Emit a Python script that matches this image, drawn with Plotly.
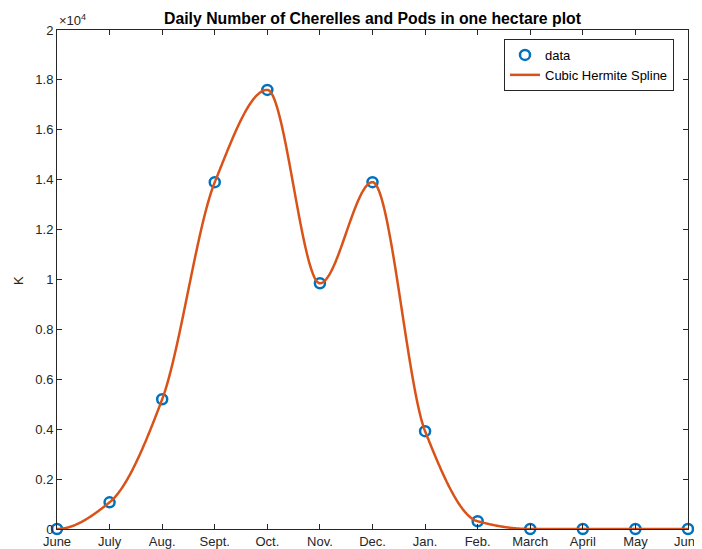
import numpy as np
import plotly.graph_objects as go

months = ["June", "July", "Aug.", "Sept.", "Oct.", "Nov.", "Dec.", "Jan.", "Feb.", "March", "April", "May", "June"]
month_index = list(range(13))
counts = [0, 1070, 5200, 13900, 17600, 9850, 13900, 3920, 310, 0, 0, 0, 0]
ytick_vals = [0, 2000, 4000, 6000, 8000, 10000, 12000, 14000, 16000, 18000, 20000]
ytick_text = ["0", "0.2", "0.4", "0.6", "0.8", "1", "1.2", "1.4", "1.6", "1.8", "2"]


def pchip(x, y, xq):
    x = np.asarray(x, float); y = np.asarray(y, float)
    n = len(x)
    h = np.diff(x)
    delta = np.diff(y) / h
    d = np.zeros(n)
    for k in range(1, n - 1):
        if delta[k - 1] * delta[k] > 0:
            w1 = 2 * h[k] + h[k - 1]
            w2 = h[k] + 2 * h[k - 1]
            d[k] = (w1 + w2) / (w1 / delta[k - 1] + w2 / delta[k])
    def endslope(h0, h1, d0, d1):
        s = ((2 * h0 + h1) * d0 - h0 * d1) / (h0 + h1)
        if np.sign(s) != np.sign(d0):
            s = 0.0
        elif np.sign(d0) != np.sign(d1) and abs(s) > abs(3 * d0):
            s = 3 * d0
        return s
    d[0] = endslope(h[0], h[1], delta[0], delta[1])
    d[-1] = endslope(h[-1], h[-2], delta[-1], delta[-2])
    xq = np.asarray(xq, float)
    idx = np.clip(np.searchsorted(x, xq) - 1, 0, n - 2)
    t = (xq - x[idx]) / h[idx]
    h00 = 2 * t**3 - 3 * t**2 + 1
    h10 = t**3 - 2 * t**2 + t
    h01 = -2 * t**3 + 3 * t**2
    h11 = t**3 - t**2
    return h00 * y[idx] + h10 * h[idx] * d[idx] + h01 * y[idx + 1] + h11 * h[idx] * d[idx + 1]


xs = np.linspace(0, 12, 1201)
ys = pchip(month_index, counts, xs)

fig = go.Figure()
fig.add_trace(go.Scatter(
    x=month_index, y=counts, mode="markers", name="data",
    marker=dict(symbol="circle-open", size=10, color="#0072BD", line=dict(width=2.5, color="#0072BD")),
    cliponaxis=False,
))
fig.add_trace(go.Scatter(
    x=xs, y=ys, mode="lines", name="Cubic Hermite Spline",
    line=dict(color="#D95319", width=2.5, simplify=False),
    cliponaxis=False,
))

axis_common = dict(
    showgrid=False, zeroline=False, showline=True, linecolor="#262626", linewidth=1,
    mirror="ticks", ticks="inside", ticklen=5, tickcolor="#262626", automargin=False,
    tickfont=dict(family="Liberation Sans, Arial", size=13, color="#262626"),
)

# page has an 8px body margin; figure margins compensate for it
fig.update_layout(
    width=702, height=549,
    margin=dict(l=49, r=22, t=22, b=28),
    paper_bgcolor="white", plot_bgcolor="white",
    font=dict(family="Liberation Sans, Arial", color="#262626"),
    title=dict(text="<b>Daily Number of Cherelles and Pods in one hectare plot</b>",
               x=364.5 / 702, xanchor="center", y=1 - 10 / 549, yanchor="middle",
               font=dict(size=15.8, color="#000000")),
    xaxis=dict(range=[0, 12], tickvals=month_index, ticktext=months, ticklabelstandoff=0, **axis_common),
    yaxis=dict(range=[0, 20000], tickvals=ytick_vals, ticktext=ytick_text, **axis_common),
    legend=dict(x=(674 - 57) / 631, y=(529 - 39) / 499, xanchor="right", yanchor="top",
                bgcolor="white", bordercolor="#262626", borderwidth=1,
                font=dict(size=13, color="#000000"), tracegroupgap=0),
    showlegend=True,
)
fig.add_annotation(text="×10<sup>4</sup>", xref="paper", yref="paper", x=0, y=1,
                   xanchor="left", yanchor="bottom", showarrow=False,
                   font=dict(size=13, color="#262626"))
fig.add_annotation(text="K", xref="paper", yref="paper", x=(18 - 57) / 631, y=(529 - 281) / 499,
                   xanchor="center", yanchor="middle", textangle=-90, showarrow=False,
                   font=dict(size=13, color="#262626"))

fig.write_html("out.html")
